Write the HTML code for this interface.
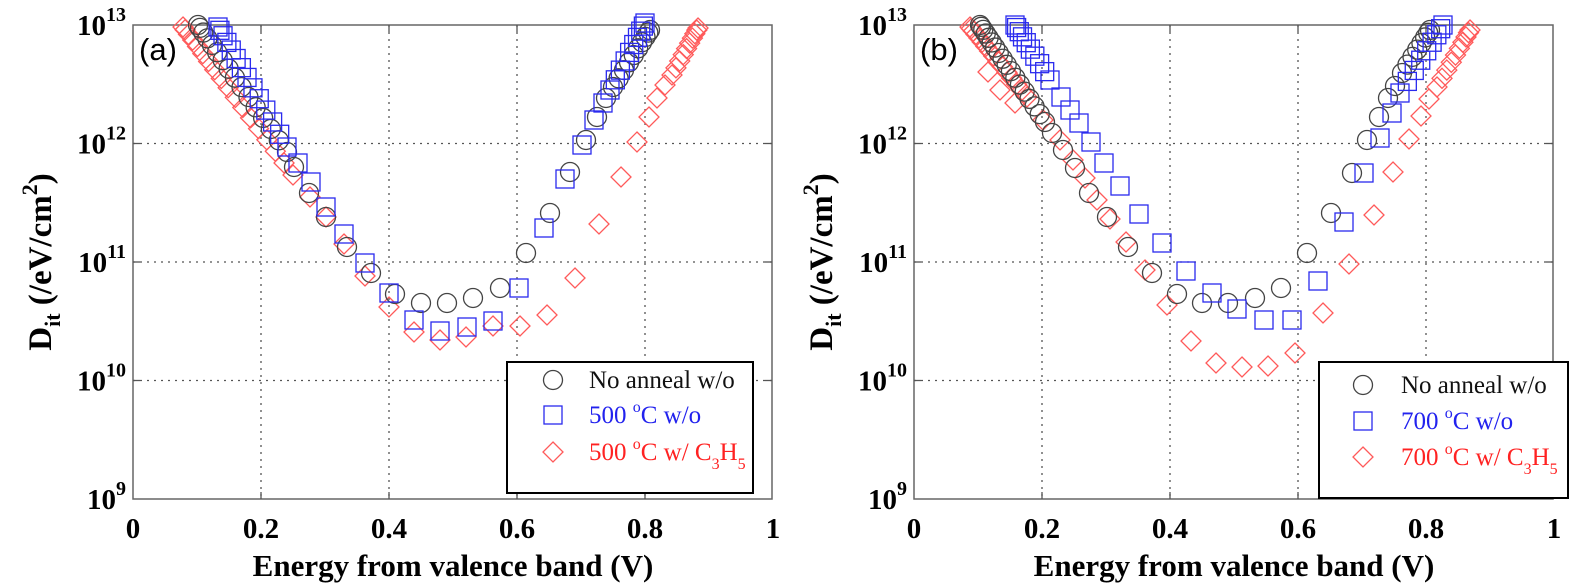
<!DOCTYPE html>
<html><head><meta charset="utf-8"><style>
html,body{margin:0;padding:0;background:#fff;}
svg{display:block;}
.t{font-family:"Liberation Serif",serif;font-weight:bold;fill:#000;}
.l{font-family:"Liberation Serif",serif;}
</style></head><body>
<svg id="s" width="1570" height="586" xmlns="http://www.w3.org/2000/svg">
<g id="g"></g>
</svg>
<script>
var NS="http://www.w3.org/2000/svg",G=document.getElementById('g');
function el(n,a,txt){var e=document.createElementNS(NS,n);for(var k in a)e.setAttribute(k,a[k]);if(txt!==undefined)e.textContent=txt;G.appendChild(e);return e;}
var BK="#444",BL="#2a2aee",RD="#ff5a5a";
function circ(x,y){el('circle',{cx:x,cy:y,r:9.5,fill:'none',stroke:BK,'stroke-width':1.3});}
function sq(x,y){el('rect',{x:x-9,y:y-9,width:18,height:18,fill:'none',stroke:BL,'stroke-width':1.3});}
function dia(x,y){el('path',{d:'M'+x+' '+(y-10)+'L'+(x+10)+' '+y+'L'+x+' '+(y+10)+'L'+(x-10)+' '+y+'Z',fill:'none',stroke:RD,'stroke-width':1.3});}
function dense(f,x0,y0,x1,y1,n){for(var i=0;i<n;i++){var t=Math.pow(i/(n-1),1.4);f(x0+(x1-x0)*t,y0+(y1-y0)*t);}}
function pts(f,a){for(var i=0;i<a.length;i++)f(a[i][0],a[i][1]);}
function axes(L,lab){
 var R=L+639,T=25,B=499;
 for(var i=1;i<5;i++){var x=L+128*i;el('line',{x1:x,y1:T,x2:x,y2:B,stroke:'#555','stroke-width':1.3,'stroke-dasharray':'2,5'});}
 for(var j=1;j<4;j++){var y=T+118.5*j;el('line',{x1:L,y1:y,x2:R,y2:y,stroke:'#555','stroke-width':1.3,'stroke-dasharray':'2,5'});}
 el('rect',{x:L,y:T,width:R-L,height:B-T,fill:'none',stroke:'#666','stroke-width':1.5});
 for(var i=1;i<5;i++){var x=L+128*i;el('line',{x1:x,y1:T,x2:x,y2:T+7,stroke:'#555','stroke-width':1.3});el('line',{x1:x,y1:B,x2:x,y2:B-7,stroke:'#555','stroke-width':1.3});}
 for(var j=1;j<4;j++){var y=T+118.5*j;el('line',{x1:L,y1:y,x2:L+7,y2:y,stroke:'#555','stroke-width':1.3});el('line',{x1:R,y1:y,x2:R-7,y2:y,stroke:'#555','stroke-width':1.3});}
 var xl=['0','0.2','0.4','0.6','0.8','1'];
 for(var i=0;i<6;i++)el('text',{x:L+128*i,y:538,'text-anchor':'middle','class':'t','font-size':29},xl[i]);
 var ex=['13','12','11','10','9'];
 for(var j=0;j<5;j++){var y=T+118.5*j;var t=el('text',{x:L-7,y:y+10,'text-anchor':'end','class':'t','font-size':29});
  t.innerHTML='10<tspan dy="-14" font-size="20">'+ex[j]+'</tspan>';}
 el('text',{x:L+320,y:576,'text-anchor':'middle','class':'t','font-size':31},'Energy from valence band (V)');
 var yl=el('text',{x:0,y:0,'text-anchor':'middle','class':'t','font-size':33,transform:'translate('+(L-82)+',262) rotate(-90)'});
 yl.innerHTML='D<tspan dy="9" font-size="22">it</tspan><tspan dy="-9"> (/eV/cm</tspan><tspan dy="-14" font-size="22">2</tspan><tspan dy="14">)</tspan>';
 el('text',{x:L+6,y:60,'font-family':'Liberation Sans, sans-serif','font-size':31},lab);
}
axes(133,'(a)');axes(914,'(b)');
dense(dia,183,27,293,175,18);
pts(dia,[[310,197],[326,217],[344,244],[365,276],[389,307],[414,332],[440,340],[466,337],[493,326],[520,326],[547,315],[575,278],[599,224],[621,177],[637,142],[649,117],[657,98],[665,85]]);
dense(dia,698,28,672,75,10);
dense(circ,198,25,287,152,16);
pts(circ,[[294,167],[309,193],[326,217],[347,247],[371,273],[395,294],[421,303],[447,303],[473,298],[500,288],[526,253],[550,213],[570,172],[586,140],[597,117],[606,98]]);
dense(circ,650,30,613,87,10);
dense(sq,218,27,287,147,14);
pts(sq,[[298,163],[311,182],[326,207],[344,234],[365,263],[389,293],[414,320],[440,331],[467,327],[493,321],[519,288],[544,228],[565,179],[582,145],[594,120],[603,103]]);
dense(sq,645,23,610,90,10);
dense(dia,970,27,1027,97,16);
pts(dia,[[988,72],[1000,90],[1015,103],[1043,120],[1060,140],[1073,160],[1085,178],[1097,200],[1110,219],[1126,242],[1145,270],[1167,305],[1191,341],[1216,363],[1242,367],[1268,366],[1295,353],[1323,313],[1349,264],[1374,215],[1393,172],[1409,139],[1421,116],[1429,99]]);
dense(dia,1470,30,1437,87,10);
dense(circ,980,25,1045,122,18);
pts(circ,[[1052,133],[1063,150],[1075,168],[1089,193],[1107,217],[1128,247],[1152,273],[1177,294],[1202,303],[1228,303],[1255,298],[1281,288],[1307,253],[1331,213],[1352,173],[1367,140],[1379,117],[1388,98],[1395,86]]);
dense(circ,1430,30,1402,73,8);
dense(sq,1015,25,1050,80,10);
pts(sq,[[1061,97],[1070,110],[1079,123],[1091,142],[1104,163],[1120,186],[1139,214],[1162,243],[1186,271],[1212,293],[1237,309],[1264,320],[1292,320],[1318,281],[1344,222],[1364,173],[1380,138],[1392,113]]);
dense(sq,1443,25,1400,93,9);
function legend(x0,y0,x1,y1,mx,tx,ys,temp){
 el('rect',{x:x0,y:y0,width:x1-x0,height:y1-y0,fill:'#fff',stroke:'#000','stroke-width':2});
 circ(mx,ys[0]);sq(mx,ys[1]);dia(mx,ys[2]);
 el('text',{x:tx,y:ys[0]+8,'class':'l','font-size':25,fill:'#111'},'No anneal w/o');
 var a=el('text',{x:tx,y:ys[1]+8,'class':'l','font-size':25,fill:'#2222ee'});a.innerHTML=temp+' <tspan dy="-11" font-size="16">o</tspan><tspan dy="11">C w/o</tspan>';
 var b=el('text',{x:tx,y:ys[2]+8,'class':'l','font-size':25,fill:'#ff2222'});b.innerHTML=temp+' <tspan dy="-11" font-size="16">o</tspan><tspan dy="11">C w/ C</tspan><tspan dy="9" font-size="16">3</tspan><tspan dy="-9">H</tspan><tspan dy="9" font-size="16">5</tspan>';
}
legend(507,362,753,493,553,589,[380,415,452],'500');
legend(1319,362,1568,498,1363,1401,[385,421,457],'700');
</script>
</body></html>
